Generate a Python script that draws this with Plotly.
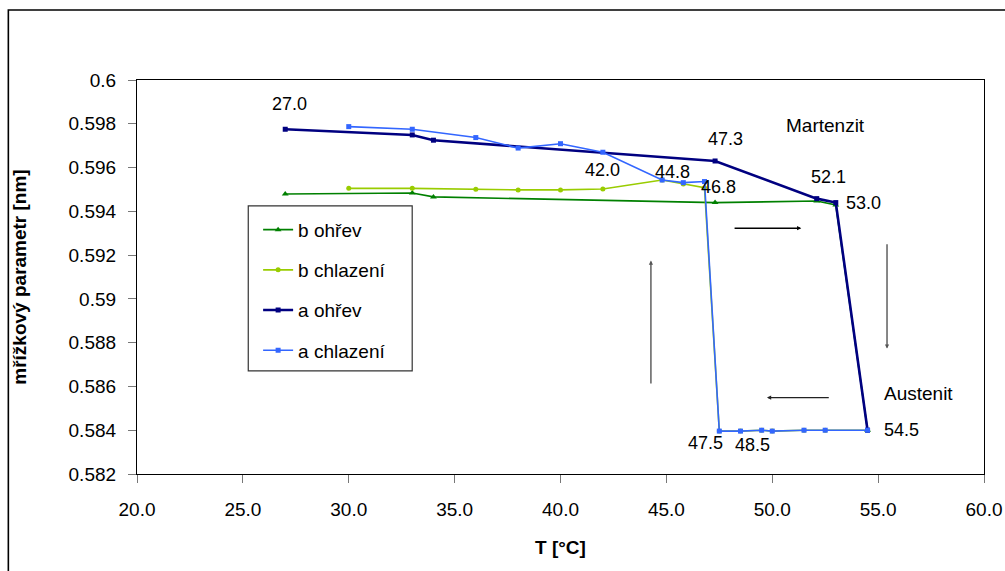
import plotly.graph_objects as go

# Teplota [°C] a mřížkový parametr [nm]
t_b_ohrev = [27.0, 33.0, 34.0, 47.3, 52.1, 53.0, 54.5]
v_b_ohrev = [0.59479, 0.59484, 0.59466, 0.59440, 0.59447, 0.59429, 0.58400]

t_b_chlazeni = [54.5, 52.5, 51.5, 50.0, 49.5, 48.5, 47.5, 46.8, 45.8, 44.8, 42.0, 40.0, 38.0, 36.0, 33.0, 30.0]
v_b_chlazeni = [0.58400, 0.58400, 0.58400, 0.58396, 0.58400, 0.58396, 0.58396, 0.59508, 0.59525,
                0.59543, 0.59502, 0.59498, 0.59498, 0.59501, 0.59505, 0.59505]

t_a_ohrev = [27.0, 33.0, 34.0, 47.3, 52.1, 53.0, 54.5]
v_a_ohrev = [0.59775, 0.59749, 0.59725, 0.59630, 0.59458, 0.59440, 0.58400]

t_a_chlazeni = [54.5, 52.5, 51.5, 50.0, 49.5, 48.5, 47.5, 46.8, 45.8, 44.8, 42.0, 40.0, 38.0, 36.0, 33.0, 30.0]
v_a_chlazeni = [0.58400, 0.58400, 0.58400, 0.58396, 0.58400, 0.58396, 0.58396, 0.59536, 0.59531,
                0.59543, 0.59670, 0.59709, 0.59689, 0.59737, 0.59775, 0.59787]

x_ticks = [20.0, 25.0, 30.0, 35.0, 40.0, 45.0, 50.0, 55.0, 60.0]
y_ticks = [0.582, 0.584, 0.586, 0.588, 0.59, 0.592, 0.594, 0.596, 0.598, 0.6]

# popisky teplot u vybraných bodů: (teplota, parametr, posun x, posun y)
point_labels = [
    (27.0, 0.59775, 4, 25),
    (47.3, 0.59630, 10, 22),
    (52.1, 0.59458, 12, 22),
    (53.0, 0.59440, 28, 0),
    (42.0, 0.59670, 0, -18),
    (44.8, 0.59543, 10, 8),
    (46.8, 0.59536, 14, -5),
    (47.5, 0.58396, -14, -12),
    (48.5, 0.58396, 12, -14),
    (54.5, 0.58400, 34, 0),
]

FONT = "Liberation Sans, Arial, sans-serif"
TXT = 19

series = [
    ("b ohřev", t_b_ohrev, v_b_ohrev, "#008000", 1.6, "triangle-up", 6),
    ("b chlazení", t_b_chlazeni, v_b_chlazeni, "#99CC00", 1.6, "circle", 5),
    ("a ohřev", t_a_ohrev, v_a_ohrev, "#000080", 2.6, "square", 5),
    ("a chlazení", t_a_chlazeni, v_a_chlazeni, "#3366FF", 1.6, "square", 5),
]

fig = go.Figure()
for name, xs, ys, color, lw, sym, ms in series:
    fig.add_trace(go.Scatter(
        x=xs, y=ys, name=name, mode="lines+markers",
        line=dict(color=color, width=lw),
        marker=dict(symbol=sym, size=ms, color=color),
        legendgroup=name,
    ))

annotations = []
for t, v, dx, dy in point_labels:
    annotations.append(dict(
        x=t, y=v, xref="x", yref="y", text=f"{t:.1f}", showarrow=False,
        xshift=dx, yshift=dy, font=dict(family=FONT, size=18, color="#000000"),
    ))

annotations += [
    dict(x=52.5, y=0.5979, xref="x", yref="y", text="Martenzit", showarrow=False,
         font=dict(family=FONT, size=TXT, color="#000000")),
    dict(x=56.9, y=0.58566, xref="x", yref="y", text="Austenit", showarrow=False,
         font=dict(family=FONT, size=TXT, color="#000000")),
]

# šipky znázorňující směr cyklu
arrows = [
    (48.15, 0.59323, 51.37, 0.59323, "#000000"),
    (55.42, 0.59257, 55.42, 0.58773, "#555555"),
    (44.27, 0.58607, 44.27, 0.59175, "#555555"),
    (52.74, 0.58549, 49.75, 0.58549, "#222222"),
]
for x0, y0, x1, y1, c in arrows:
    annotations.append(dict(
        x=x1, y=y1, ax=x0, ay=y0, xref="x", yref="y", axref="x", ayref="y",
        text="", showarrow=True, arrowhead=2, arrowsize=0.6, arrowwidth=1.4,
        arrowcolor=c,
    ))

fig.update_layout(
    width=1005, height=571, autosize=False,
    margin=dict(l=137, r=21, t=80, b=97),
    paper_bgcolor="white", plot_bgcolor="white",
    font=dict(family=FONT, size=TXT, color="#000000"),
    showlegend=True,
    legend=dict(
        x=0.143, y=0.668, xanchor="left", yanchor="top",
        bgcolor="rgba(0,0,0,0)", borderwidth=0,
        font=dict(family=FONT, size=TXT, color="#000000"),
        traceorder="grouped", tracegroupgap=12.5, itemwidth=30,
    ),
    annotations=annotations,
    shapes=[
        # rámeček legendy
        dict(type="rect", xref="paper", yref="paper",
             x0=(248 - 136.7) / 847.3, x1=(412 - 136.7) / 847.3,
             y0=(474.3 - 371) / 394.3, y1=(474.3 - 206) / 394.3,
             line=dict(color="#333333", width=1.2), fillcolor="white", layer="below"),
        # vnější rámeček grafu
        dict(type="rect", xref="paper", yref="paper",
             x0=(8 - 136.7) / 847.3, x1=(1010 - 136.7) / 847.3,
             y0=(474.3 - 580) / 394.3, y1=(474.3 - 10) / 394.3,
             line=dict(color="#000000", width=1.6), fillcolor="rgba(0,0,0,0)", layer="below"),
    ],
    xaxis=dict(
        range=[20, 60], tickvals=x_ticks, ticktext=[f"{v:.1f}" for v in x_ticks],
        automargin=False,
        showgrid=False, zeroline=False, showline=True, linecolor="#000000", linewidth=1.2,
        mirror=True, ticks="outside", ticklen=8, tickcolor="#777777", tickwidth=1,
        tickfont=dict(family=FONT, size=TXT), ticklabelstandoff=10,
        title=dict(text="<b>T [°C]</b>", font=dict(family=FONT, size=TXT), standoff=21),
    ),
    yaxis=dict(
        range=[0.582, 0.6], tickvals=y_ticks, ticktext=[f"{v:g}" for v in y_ticks],
        automargin=False,
        showgrid=False, zeroline=False, showline=True, linecolor="#000000", linewidth=1.2,
        mirror=True, ticks="outside", ticklen=8, tickcolor="#777777", tickwidth=1,
        tickfont=dict(family=FONT, size=TXT), ticklabelstandoff=8,
        title=dict(text="<b>mřížkový parametr [nm]</b>", font=dict(family=FONT, size=TXT), standoff=36),
    ),
)

fig.write_html("out.html")
